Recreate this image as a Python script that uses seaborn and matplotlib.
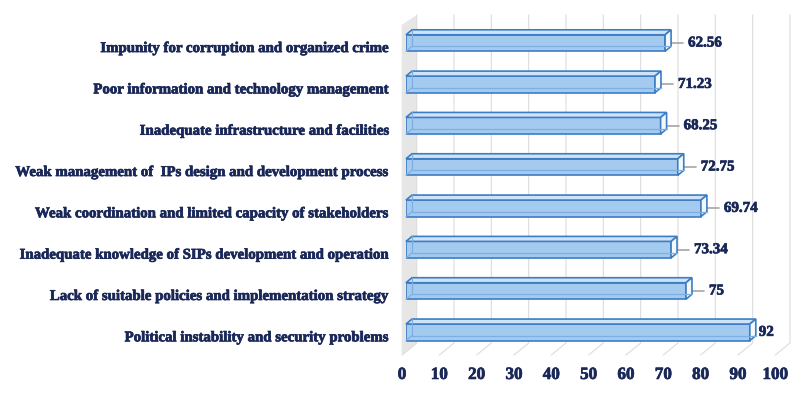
import matplotlib
matplotlib.use("Agg")
import matplotlib.pyplot as plt
import matplotlib.patheffects as pe
import matplotlib.transforms as mtransforms
from matplotlib.patches import Polygon
import pandas as pd
import seaborn as sns

# data
categories = [
    "Impunity for corruption and organized crime",
    "Poor information and technology management",
    "Inadequate infrastructure and facilities",
    "Weak management of  IPs design and development process",
    "Weak coordination and limited capacity of stakeholders",
    "Inadequate knowledge of SIPs development and operation",
    "Lack of suitable policies and implementation strategy",
    "Political instability and security problems",
]
bar_lengths = [69.4, 66.7, 68.2, 72.8, 79.0, 71.0, 75.0, 92.1]
value_labels = ["62.56", "71.23", "68.25", "72.75", "69.74", "73.34", "75", "92"]
x_ticks = [0, 10, 20, 30, 40, 50, 60, 70, 80, 90, 100]

NAVY = "#1A2858"
FRONT = "#A4CAF0"
TOP = "#CFE3F8"
SIDE = "#F3F8FD"
EDGE = "#3C7DC4"
INNER = "#7FAEE0"
WALL = "#E6E6E6"
GRID = "#DCDCDC"
LEADER = "#A6A6A6"

sns.set_theme(style="white")
plt.rcParams["font.family"] = ["Liberation Serif", "DejaVu Serif"]
heavy = [pe.withStroke(linewidth=0.5, foreground=NAVY)]

W, H = 811, 401
fig = plt.figure(figsize=(W / 100, H / 100), dpi=100)
ax = fig.add_axes([406 / W, (H - 360) / H, 373.3 / W, 350 / H])

df = pd.DataFrame({"factor": categories, "score": bar_lengths})
sns.barplot(data=df, x="score", y="factor", orient="h", width=0.4,
            color=FRONT, edgecolor=EDGE, linewidth=1.2, saturation=1,
            ax=ax, zorder=3)
ax.set_xlim(0, 100)
ax.set_ylim(7.67, -0.8)
ax.set_xlabel("")
ax.set_ylabel("")
for s in ax.spines.values():
    s.set_visible(False)

# pixels per data unit
ux = ax.bbox.width / 100
uy = ax.bbox.height / 8.47
inv = ax.transData.inverted()


def to_data(px, py):
    # px, py in image pixels (y from top)
    return inv.transform((px, H - py))


def x_px(v):
    return ax.transData.transform((v, 0))[0]


# back wall gridlines and floor lines
for k in x_ticks:
    bx = x_px(k) + 10.7
    fx = x_px(k) - 4
    pts = [to_data(bx, 15), to_data(bx, 343), to_data(fx, 355)]
    ax.plot([p[0] for p in pts], [p[1] for p in pts], color=GRID, lw=0.8,
            zorder=1, clip_on=False)

# left side wall
wall = [to_data(x_px(0) - 4.3, 25), to_data(x_px(0) + 10.7, 15),
        to_data(x_px(0) + 10.7, 343), to_data(x_px(0) - 4.3, 355)]
ax.add_patch(Polygon(wall, closed=True, facecolor=WALL, edgecolor="none",
                     zorder=0, clip_on=False))

# pseudo 3D faces for each bar
ddx, ddy = 6 / ux, 5 / uy
for p in list(ax.patches)[: len(bar_lengths)]:
    x0, w = p.get_x(), p.get_width()
    yt, yb = p.get_y(), p.get_y() + p.get_height()
    top = [(x0, yt), (x0 + w, yt), (x0 + w + ddx, yt - ddy), (x0 + ddx, yt - ddy)]
    side = [(x0 + w, yt), (x0 + w + ddx, yt - ddy),
            (x0 + w + ddx, yb - ddy), (x0 + w, yb)]
    ax.add_patch(Polygon(top, closed=True, facecolor=TOP, edgecolor=EDGE,
                         lw=1.2, zorder=3, clip_on=False))
    ax.add_patch(Polygon(side, closed=True, facecolor=SIDE, edgecolor=EDGE,
                         lw=1.2, zorder=3, clip_on=False))
    # back edges seen through the box
    ax.plot([x0 + ddx, x0 + ddx, x0 + w + ddx], [yt - ddy, yb - ddy, yb - ddy],
            color=INNER, lw=0.9, zorder=4, clip_on=False)
    ax.plot([x0, x0 + ddx], [yb, yb - ddy], color=INNER, lw=0.9, zorder=4,
            clip_on=False)

# value labels with leader lines
for i, (w, lab) in enumerate(zip(bar_lengths, value_labels)):
    if w + 40 / ux < 100:
        ax.plot([w, w + 18 / ux], [i, i], color=LEADER, lw=1.2, zorder=2,
                clip_on=False)
        tx = w + 23 / ux
    else:
        tx = w + 9 / ux
    ax.text(tx, i, lab, ha="left", va="center", fontsize=10.8,
            fontweight="bold", color=NAVY, clip_on=False, path_effects=heavy)

# ticks
ax.set_xticks(x_ticks)
ax.set_xticklabels([str(t) for t in x_ticks])
ax.tick_params(axis="x", length=0, pad=5)
ax.tick_params(axis="y", length=0, pad=12)
xshift = mtransforms.ScaledTranslation(-4 / 100, 0, fig.dpi_scale_trans)
yshift = mtransforms.ScaledTranslation(0, -4 / 100, fig.dpi_scale_trans)
for lbl in ax.get_xticklabels():
    lbl.set_fontsize(12.3)
    lbl.set_fontweight("bold")
    lbl.set_color(NAVY)
    lbl.set_path_effects(heavy)
    lbl.set_transform(lbl.get_transform() + xshift)
for lbl in ax.get_yticklabels():
    lbl.set_fontsize(10.7)
    lbl.set_fontweight("bold")
    lbl.set_color(NAVY)
    lbl.set_path_effects(heavy)
    lbl.set_transform(lbl.get_transform() + yshift)

fig.savefig("out.png", dpi=100, facecolor="white")
